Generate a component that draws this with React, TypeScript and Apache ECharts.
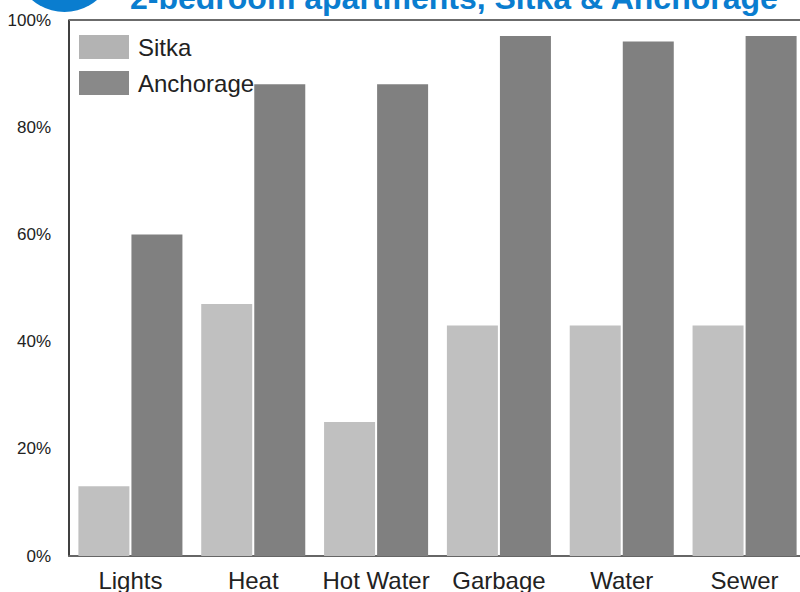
import React, { useEffect, useRef } from "react";
import * as echarts from "echarts";

const categories = ["Lights", "Heat", "Hot Water", "Garbage", "Water", "Sewer"];
const sitka = [13, 47, 25, 43, 43, 43];
const anchorage = [60, 88, 88, 97, 96, 97];
const yTicks = { min: 0, max: 100, interval: 20 };
const titleText = "2-bedroom apartments, Sitka & Anchorage";

export default function App() {
  const ref = useRef<HTMLDivElement>(null);
  useEffect(() => {
    if (!ref.current) return;
    const chart = echarts.init(ref.current, null, { renderer: "svg" });
    const font = "Arial, 'Liberation Sans', Helvetica, sans-serif";
    chart.setOption({
      animation: false,
      backgroundColor: "#ffffff",
      textStyle: { fontFamily: font },
      grid: {
        left: 69,
        top: 20,
        width: 737,
        height: 536,
        containLabel: false,
        outerBoundsMode: "none",
      },
      legend: {
        orient: "vertical",
        left: 79,
        top: 35,
        padding: 0,
        itemWidth: 50,
        itemHeight: 24,
        itemGap: 12,
        icon: "rect",
        textStyle: { fontSize: 24, color: "#222", fontFamily: font, padding: [0, 0, 0, 4] },
        data: [
          { name: "Sitka", itemStyle: { color: "#b3b3b3" } },
          { name: "Anchorage", itemStyle: { color: "#898989" } },
        ],
        z: 10,
      },
      xAxis: {
        type: "category",
        data: categories,
        axisLine: { show: true, lineStyle: { color: "#666", width: 2 } },
        axisTick: { show: false },
        axisLabel: { fontSize: 24, color: "#222", margin: 12, fontFamily: font, interval: 0 },
      },
      yAxis: {
        type: "value",
        min: yTicks.min,
        max: yTicks.max,
        interval: yTicks.interval,
        axisLine: { show: true, lineStyle: { color: "#000", width: 1.5 } },
        axisTick: { show: false },
        splitLine: { show: false },
        axisLabel: { formatter: "{value}%", fontSize: 17, color: "#222", margin: 18, fontFamily: font },
      },
      graphic: [
        {
          type: "circle",
          left: 14.5,
          top: -88,
          shape: { r: 50 },
          style: { fill: "#0a7dcf" },
          z: 1,
        },
        {
          type: "text",
          x: 130,
          y: -18,
          style: {
            text: titleText,
            fill: "#0a7dcf",
            font: `bold 32px ${font}`,
            textAlign: "left",
            textVerticalAlign: "top",
          },
          z: 1,
        },
        {
          type: "line",
          shape: { x1: 69, y1: 20, x2: 800, y2: 20 },
          style: { stroke: "#6b6b6b", lineWidth: 2 },
          z: 1,
        },
      ],
      series: [
        {
          name: "Sitka",
          type: "bar",
          data: sitka,
          barWidth: 51,
          barGap: "4%",
          itemStyle: { color: "#c0c0c0" },
          z: 2,
        },
        {
          name: "Anchorage",
          type: "bar",
          data: anchorage,
          barWidth: 51,
          barGap: "4%",
          itemStyle: { color: "#808080" },
          z: 2,
        },
      ],
    });
    return () => chart.dispose();
  }, []);
  return (
    <div
      ref={ref}
      style={{ position: "fixed", left: 0, top: 0, width: 800, height: 592 }}
    />
  );
}
